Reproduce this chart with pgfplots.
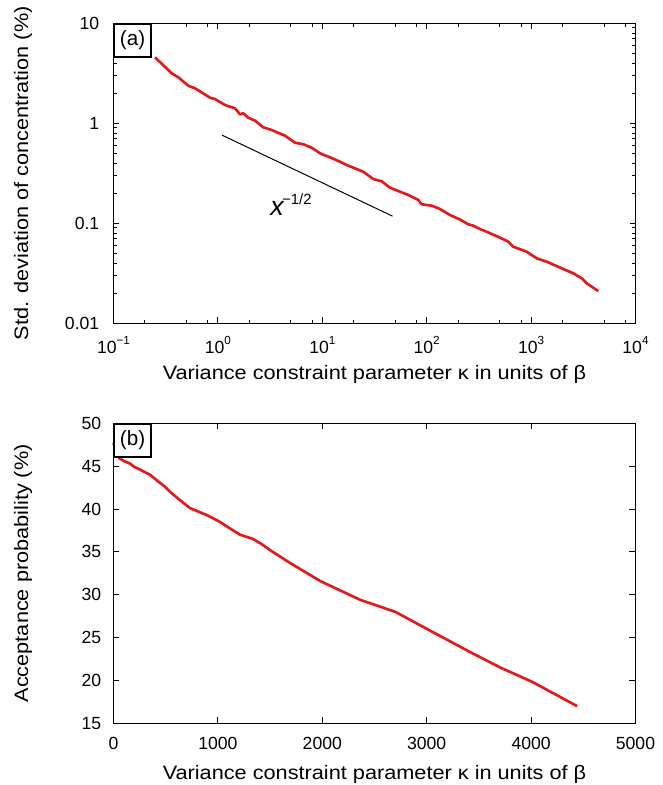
\documentclass[border=0pt]{standalone}
\usepackage{fontspec}
\setmainfont{Liberation Sans}
\usepackage{pgfplots}
\pgfplotsset{compat=1.18}
\usepackage{pgfplotstable}
\definecolor{cred}{RGB}{227,26,28}
\newcommand{\tp}[1]{10\raisebox{6.2pt}{\fontsize{8.8}{10}\selectfont #1}}
\newcommand{\lab}[1]{\scalebox{1.115}[1]{#1}}

\pgfplotstableread{
x y
0.2497 4.571
0.361 3.162
0.4175 2.884
0.5205 2.377
0.6033 2.239
0.840 1.803
0.938 1.750
1.170 1.524
1.458 1.413
1.628 1.230
1.751 1.259
1.955 1.138
2.267 1.062
2.722 0.912
3.276 0.857
4.392 0.752
5.476 0.640
6.577 0.617
7.915 0.570
9.507 0.501
11.85 0.457
14.77 0.413
17.13 0.383
19.81 0.360
24.70 0.328
30.80 0.277
37.07 0.263
44.52 0.227
55.51 0.207
66.65 0.192
83.10 0.171
89.57 0.155
111.7 0.150
134.1 0.139
167.2 0.121
205.0 0.110
250.3 0.0977
279.5 0.0946
323.9 0.0877
400.0 0.0800
503.6 0.0718
604.8 0.0655
675.2 0.0583
907.7 0.0520
1131 0.0447
1410 0.0413
2034 0.0349
2537 0.0316
3052 0.0282
3409 0.0251
4403 0.0210
}\stdtable

\pgfplotstableread{
x y
0 47.7
30 46.3
60 45.9
100 45.6
158 45.3
200 44.9
254 44.6
300 44.3
350 44.0
420 43.3
494 42.6
542 42.0
640 41.0
733 40.1
893 39.3
1005 38.6
1133 37.6
1213 37.0
1338 36.5
1420 35.9
1500 35.2
1692 33.7
1980 31.6
2364 29.4
2700 28.0
3034 25.8
3418 23.3
3706 21.5
4009 19.85
4441 17.0
}\acctable

\pgfplotsset{
  myaxis/.style={
    width=391.5pt, height=225pt, scale only axis,
    axis line style={line width=1.1pt},
    tick style={line width=0.7pt, black},
    tick align=inside,
    xtick pos=both, ytick pos=both,
    major tick length=4.5pt,
    minor tick length=2.5pt,
    ticklabel style={font=\fontsize{13.2}{15}\selectfont},
    xticklabel style={anchor=base, inner sep=0pt},
    yticklabel style={anchor=east, inner sep=0pt},
    label style={font=\fontsize{14.6}{16}\selectfont},
    xlabel style={at={(axis description cs:0.5,0)}, anchor=base, yshift=-42.3pt, inner sep=0pt},
    ylabel style={at={(axis description cs:-0.1637,0.5)}, anchor=base, inner sep=0pt},
    xlabel={\lab{Variance constraint parameter κ in units of β}},
  },
}
\tikzset{
  boxlabel/.style={draw, line width=0.9pt, fill=white, anchor=north west,
    minimum width=27.75pt, minimum height=24.75pt, inner sep=0pt,
    font=\fontsize{15.5}{17}\selectfont},
}

\begin{document}
\begin{tikzpicture}
\begin{axis}[myaxis,
  at={(0,0)}, anchor=south west,
  xmode=log, ymode=log,
  xmin=0.1, xmax=10000, ymin=0.01, ymax=10,
  xtick={0.1,1,10,100,1000,10000},
  xticklabels={\tp{−1},\tp{0},\tp{1},\tp{2},\tp{3},\tp{4}},
  minor xtick={0.2,0.5,0.8,2,5,8,20,50,80,200,500,800,2000,5000,8000},
  ytick={0.01,0.1,1,10},
  yticklabels={0.01,0.1,1,10},
  xticklabel style={yshift=-22.3pt},
  yticklabel style={xshift=-10.5pt},
  ylabel={\lab{Std. deviation of concentration (\%)}},
]
\addplot[cred, line width=2pt, line join=round] table[x=x,y=y] {\stdtable};
\addplot[black, line width=0.75pt] coordinates {(1.1,0.76) (47,0.118)};
\node[anchor=base west, inner sep=0pt] at (axis cs:3.16,0.121)
  {\fontsize{20}{20}\selectfont\itshape x\hspace{-1pt}\raisebox{8.25pt}{\fontsize{11.1}{12}\selectfont\upshape −1/2}};
\node[boxlabel] at (rel axis cs:0,1) {(a)};
\end{axis}

\begin{axis}[myaxis,
  at={(0,-75pt)}, anchor=north west,
  xmin=0, xmax=5000, ymin=15, ymax=50,
  xtick={0,1000,2000,3000,4000,5000},
  xticklabels={0,1000,2000,3000,4000,5000},
  ytick={15,20,25,30,35,40,45,50},
  yticklabels={15,20,25,30,35,40,45,50},
  xticklabel style={yshift=-19.3pt},
  yticklabel style={xshift=-9pt},
  ylabel={\lab{Acceptance probability (\%)}},
  clip=false,
]
\addplot[cred, line width=2pt, line join=round] table[x=x,y=y] {\acctable};
\node[boxlabel] at (rel axis cs:0,1) {(b)};
\end{axis}

\pgfresetboundingbox
\path[use as bounding box] (-85.125pt,242.475pt) rectangle (412.125pt,-346.275pt);
\end{tikzpicture}
\end{document}
